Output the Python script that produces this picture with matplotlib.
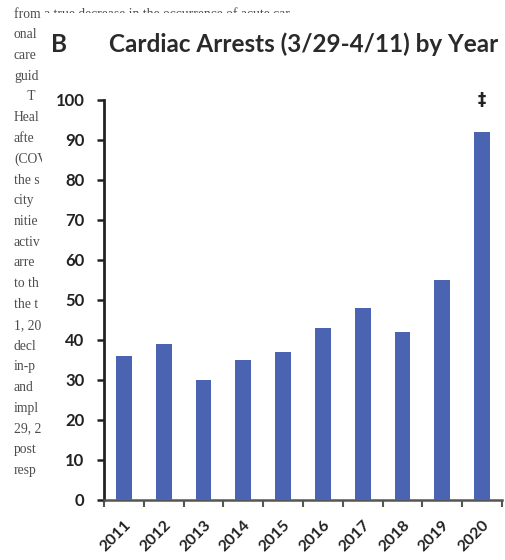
import matplotlib
matplotlib.use("Agg")
import matplotlib.pyplot as plt
from matplotlib.patches import Rectangle

years = ["2011", "2012", "2013", "2014", "2015", "2016", "2017", "2018", "2019", "2020"]
arrests = [36, 39, 30, 35, 37, 43, 48, 42, 55, 92]
y_ticks = [0, 10, 20, 30, 40, 50, 60, 70, 80, 90, 100]
panel_label = "B"
title = "Cardiac Arrests (3/29-4/11) by Year"
marker_text = "\u2021"
side_text = ["from a true decrease in the occurrence of acute car", "onal", "care", "guid", "    T", "Heal",
             "afte", "(COV", "the s", "city", "nitie", "activ", "arre", "to th", "the t",
             "1, 20", "decl", "in-p", "and", "impl", "29, 2", "post", "resp"]

W, H = 506, 560
fig = plt.figure(figsize=(W / 100, H / 100), dpi=100)
fig.patch.set_facecolor("white")

# background text of the page
for i, line in enumerate(side_text):
    y = 14 + 20.75 * i
    fig.text(14 / W, 1 - y / H, line, fontsize=9.8, family="Liberation Serif",
             color="#4d4d4d", va="center", ha="left", zorder=0)

# white chart panel covering the page text
fig.patches.append(Rectangle((42 / W, 0), 1, 1 - 13 / H, transform=fig.transFigure,
                             facecolor="white", edgecolor="none", zorder=1))

ax = fig.add_axes([104 / W, 1 - 500 / H, 398 / W, 400 / H], zorder=2)
ax.set_facecolor("none")
x = list(range(len(years)))
ax.bar(x, arrests, width=0.4, color="#4A64B2", zorder=3)
ax.set_xlim(-0.5, len(years) - 0.5)
ax.set_ylim(0, 100)
ax.set_yticks(y_ticks)
ax.set_yticklabels([str(v) for v in y_ticks], fontsize=12, fontweight="bold",
                   family="Lato", color="#222222")
ax.set_xticks(x)
ax.set_xticklabels(years, rotation=45, ha="right", rotation_mode="anchor",
                   fontsize=11.5, fontweight="bold", family="Lato", color="#222222")
ax.set_xticks([i - 0.5 for i in range(len(years) + 1)], minor=True)
ax.tick_params(axis="x", which="major", length=0, pad=13)
ax.tick_params(axis="x", which="minor", length=5, width=1.5, color="#555555", direction="out")
ax.tick_params(axis="y", length=5, width=1.8, color="#222222", direction="out", pad=9)
for s in ["top", "right"]:
    ax.spines[s].set_visible(False)
ax.spines["left"].set_linewidth(2)
ax.spines["left"].set_color("#222222")
ax.spines["bottom"].set_linewidth(1.8)
ax.spines["bottom"].set_color("#555555")

ax.text(len(years) - 1, 100, marker_text, ha="center", va="center", fontsize=12,
        fontweight="bold", family="DejaVu Sans", color="#222222")

fig.text(51 / W, 1 - 52 / H, panel_label, fontsize=17.5, fontweight="bold",
         family="Lato", color="#2a2a2a", va="baseline", ha="left", zorder=3)
fig.text(109 / W, 1 - 52 / H, title, fontsize=17.5, fontweight="bold",
         family="Lato", color="#2a2a2a", va="baseline", ha="left", zorder=3)

fig.savefig("out.png", dpi=100, facecolor="white")
